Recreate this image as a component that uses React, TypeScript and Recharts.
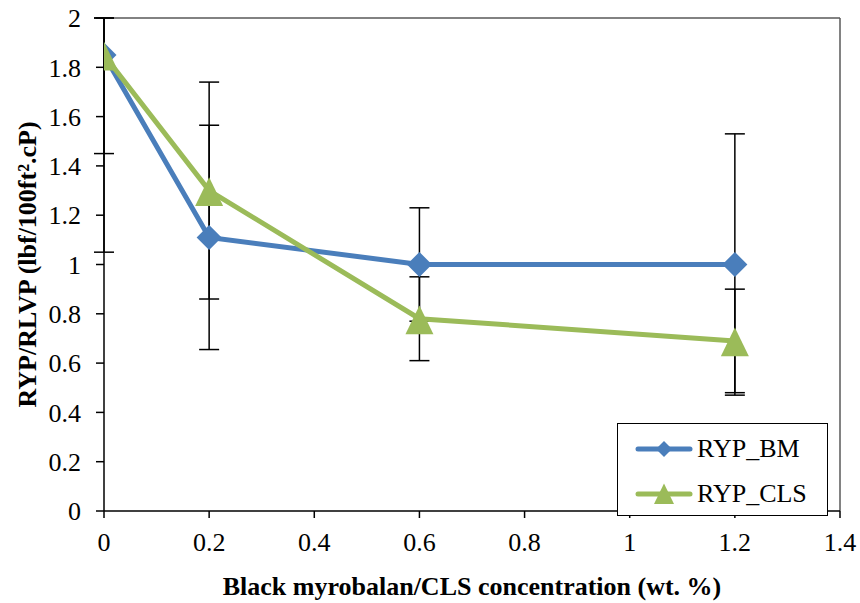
import { ErrorBar, Line, LineChart, ReferenceLine, XAxis, YAxis } from "recharts";

const concentration = [0, 0.2, 0.6, 1.2];
const rypBM = [1.85, 1.11, 1.0, 1.0];
const rypCLS = [1.85, 1.3, 0.78, 0.69];
// [below, above]; above the 2.0 frame the bars are cut off in the source
const errBM = [[0.4, 0.15], [0.455, 0.455], [0.23, 0.23], [0.53, 0.53]];
const errCLS = [[0.8, 0.15], [0.44, 0.44], [0.17, 0.17], [0.21, 0.21]];

const seriesNames = ["RYP_BM", "RYP_CLS"];
const xTicks = [0, 0.2, 0.4, 0.6, 0.8, 1, 1.2, 1.4];
const yTicks = [0, 0.2, 0.4, 0.6, 0.8, 1, 1.2, 1.4, 1.6, 1.8, 2];

const data = concentration.map((c, i) => ({
  c,
  bm: rypBM[i],
  cls: rypCLS[i],
  bmErr: errBM[i],
  clsErr: errCLS[i],
}));

const BLUE = "#4a7ebb";
const GREEN = "#9bbb59";
const FONT = "Liberation Serif, Times New Roman, serif";

const Diamond = (props: any) => {
  const { cx, cy, fill, size = 12 } = props;
  if (cx == null || cy == null) return null;
  return (
    <path
      d={`M${cx},${cy - size} L${cx + size},${cy} L${cx},${cy + size} L${cx - size},${cy} Z`}
      fill={fill}
    />
  );
};

const Triangle = (props: any) => {
  const { cx, cy, fill, size = 14 } = props;
  if (cx == null || cy == null) return null;
  return (
    <path
      d={`M${cx},${cy - size * 0.95} L${cx + size},${cy + size * 1.1} L${cx - size},${cy + size * 1.1} Z`}
      fill={fill}
    />
  );
};

function LegendBox() {
  const colors = [BLUE, GREEN];
  return (
    <div
      style={{
        position: "absolute",
        left: 617,
        top: 423,
        width: 209,
        height: 91,
        border: "1px solid #000",
        background: "#fff",
        fontFamily: FONT,
        fontSize: 26,
        color: "#000",
      }}
    >
      {seriesNames.map((name, i) => (
        <div
          key={name}
          style={{ display: "flex", alignItems: "center", height: 45, marginTop: i === 0 ? 2 : 0 }}
        >
          <svg width={79} height={30} style={{ flexShrink: 0 }}>
            <line x1={20} y1={15} x2={72} y2={15} stroke={colors[i]} strokeWidth={5} strokeLinecap="round" />
            {i === 0 ? (
              <Diamond cx={46} cy={15} size={8} fill={colors[i]} />
            ) : (
              <Triangle cx={46} cy={14} size={10} fill={colors[i]} />
            )}
          </svg>
          <span>{name}</span>
        </div>
      ))}
    </div>
  );
}

export default function App() {
  return (
    <div style={{ position: "absolute", left: 0, top: 0, width: 860, height: 603, background: "#fff", fontFamily: FONT }}>
      <LineChart
        width={860}
        height={603}
        data={data}
        margin={{ top: 18, right: 20, bottom: 12, left: 0 }}
        style={{ fontFamily: FONT }}
      >
        <XAxis
          dataKey="c"
          type="number"
          domain={[0, 1.4]}
          ticks={xTicks}
          allowDataOverflow
          height={80}
          stroke="#000"
          strokeWidth={1.5}
          tickSize={7}
          tickMargin={15}
          tick={{ fill: "#000", fontSize: 26, fontFamily: FONT }}
          label={{
            value: "Black myrobalan/CLS concentration (wt. %)",
            position: "bottom",
            offset: -14,
            style: { fill: "#000", fontSize: 26, fontWeight: "bold", fontFamily: FONT },
          }}
        />
        <YAxis
          type="number"
          domain={[0, 2]}
          ticks={yTicks}
          allowDataOverflow
          width={104}
          stroke="#000"
          strokeWidth={1.5}
          tickSize={8}
          tickMargin={15}
          tick={{ fill: "#000", fontSize: 26, fontFamily: FONT }}
          label={{
            value: "RYP/RLVP (lbf/100ft².cP)",
            angle: -90,
            position: "insideLeft",
            offset: 27,
            style: {
              fill: "#000",
              fontSize: 26,
              fontWeight: "bold",
              fontFamily: FONT,
              textAnchor: "middle",
            },
          }}
        />
        <ReferenceLine y={2} stroke="#595959" strokeWidth={1.5} />
        <ReferenceLine x={1.4} stroke="#595959" strokeWidth={1.5} />
        <Line
          dataKey="bm"
          name={seriesNames[0]}
          stroke={BLUE}
          strokeWidth={5}
          isAnimationActive={false}
          dot={(p: any) => <Diamond key={`bm-${p.index}`} cx={p.cx} cy={p.cy} fill={BLUE} size={12.5} />}
          activeDot={false}
        >
          <ErrorBar dataKey="bmErr" direction="y" width={10} stroke="#000" strokeWidth={1.5} isAnimationActive={false} />
        </Line>
        <Line
          dataKey="cls"
          name={seriesNames[1]}
          stroke={GREEN}
          strokeWidth={5}
          isAnimationActive={false}
          dot={(p: any) => <Triangle key={`cls-${p.index}`} cx={p.cx} cy={p.cy} fill={GREEN} size={14} />}
          activeDot={false}
        >
          <ErrorBar dataKey="clsErr" direction="y" width={10} stroke="#000" strokeWidth={1.5} isAnimationActive={false} />
        </Line>
      </LineChart>
      <LegendBox />
    </div>
  );
}
